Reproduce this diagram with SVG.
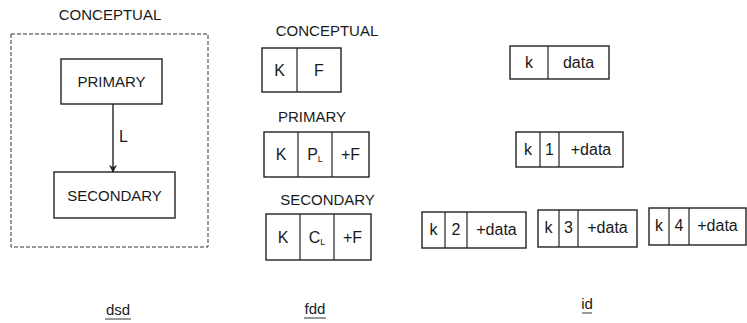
<svg xmlns="http://www.w3.org/2000/svg" width="747" height="323" viewBox="0 0 747 323">
  <style>
    .t { font-family: "Liberation Sans", Arial, sans-serif; fill: #1a1a1a; }
    .h { font-size: 15px; text-anchor: middle; }
    .c { font-size: 16px; text-anchor: middle; }
    .n { font-size: 15px; text-anchor: middle; }
    .cap { font-size: 16px; }
    .box { fill: none; stroke: #222; stroke-width: 1.4; }
    .div { stroke: #222; stroke-width: 1.2; }
    .frame { fill: none; stroke: #333; stroke-width: 1; stroke-dasharray: 4 2; }
    .ul { stroke: #333; stroke-width: 1; }
    .sub { font-size: 9px; }
  </style>
  <defs>
    <marker id="arrow" viewBox="0 0 10 10" refX="9" refY="5" markerWidth="8" markerHeight="11" orient="auto" markerUnits="userSpaceOnUse">
      <path d="M0,0 L10,5 L0,10 L3,5 Z" fill="#222"/>
    </marker>
  </defs>

  <!-- Data structure diagram (dsd) -->
  <g id="dsd">
    <text class="t h" x="110" y="20">CONCEPTUAL</text>
    <rect class="frame" x="11" y="34" width="197" height="213"/>
    <g id="dsd-primary">
      <rect class="box" x="61" y="59" width="101" height="45"/>
      <text class="t n" x="111.5" y="87">PRIMARY</text>
    </g>
    <g id="dsd-secondary">
      <rect class="box" x="54" y="172" width="121" height="46"/>
      <text class="t n" x="114.5" y="201">SECONDARY</text>
    </g>
    <text class="t h" x="118" y="315">dsd</text>
    <line class="ul" x1="105" y1="319" x2="131" y2="319"/>
  </g>

  <g id="connectors">
    <line x1="113" y1="104" x2="113" y2="172" stroke="#222" stroke-width="1.4" marker-end="url(#arrow)"/>
    <text class="t cap" x="119" y="142">L</text>
  </g>

  <!-- File definition diagram (fdd) -->
  <g id="fdd-conceptual">
    <text class="t h" x="327" y="36">CONCEPTUAL</text>
    <rect class="box" x="262" y="48" width="79" height="44"/>
    <line class="div" x1="297" y1="48" x2="297" y2="92"/>
    <text class="t c" x="279.5" y="76">K</text>
    <text class="t c" x="319" y="76">F</text>
  </g>
  <g id="fdd-primary">
    <text class="t h" x="312" y="122">PRIMARY</text>
    <rect class="box" x="264" y="132" width="105" height="45"/>
    <line class="div" x1="298" y1="132" x2="298" y2="177"/>
    <line class="div" x1="332" y1="132" x2="332" y2="177"/>
    <text class="t c" x="281" y="160">K</text>
    <text class="t c" x="315" y="160">P<tspan class="sub" dy="2">L</tspan></text>
    <text class="t c" x="350.5" y="160">+F</text>
  </g>
  <g id="fdd-secondary">
    <text class="t h" x="327.5" y="205">SECONDARY</text>
    <rect class="box" x="266" y="214" width="105" height="46"/>
    <line class="div" x1="300" y1="214" x2="300" y2="260"/>
    <line class="div" x1="334" y1="214" x2="334" y2="260"/>
    <text class="t c" x="283" y="243">K</text>
    <text class="t c" x="317" y="243">C<tspan class="sub" dy="2">L</tspan></text>
    <text class="t c" x="352.5" y="243">+F</text>
  </g>
  <g id="fdd-label">
    <text class="t h" x="315" y="314">fdd</text>
    <line class="ul" x1="304" y1="318" x2="326" y2="318"/>
  </g>

  <!-- Instance diagram (id) -->
  <g id="id-conceptual">
    <rect class="box" x="510" y="46" width="99" height="33"/>
    <line class="div" x1="548" y1="46" x2="548" y2="79"/>
    <text class="t c" x="529" y="68">k</text>
    <text class="t c" x="578.5" y="68">data</text>
  </g>
  <g id="id-primary">
    <rect class="box" x="516" y="132" width="107" height="35"/>
    <line class="div" x1="540" y1="132" x2="540" y2="167"/>
    <line class="div" x1="559" y1="132" x2="559" y2="167"/>
    <text class="t c" x="528" y="155">k</text>
    <text class="t c" x="549.5" y="155">1</text>
    <text class="t c" x="591" y="155">+data</text>
  </g>
  <g id="id-secondary-2">
    <rect class="box" x="422" y="212" width="104" height="36"/>
    <line class="div" x1="445" y1="212" x2="445" y2="248"/>
    <line class="div" x1="467" y1="212" x2="467" y2="248"/>
    <text class="t c" x="433.5" y="235">k</text>
    <text class="t c" x="456" y="235">2</text>
    <text class="t c" x="496.5" y="235">+data</text>
  </g>
  <g id="id-secondary-3">
    <rect class="box" x="538" y="210" width="99" height="37"/>
    <line class="div" x1="559" y1="210" x2="559" y2="247"/>
    <line class="div" x1="578" y1="210" x2="578" y2="247"/>
    <text class="t c" x="548.5" y="233">k</text>
    <text class="t c" x="568.5" y="233">3</text>
    <text class="t c" x="607.5" y="233">+data</text>
  </g>
  <g id="id-secondary-4">
    <rect class="box" x="649" y="208" width="97" height="37"/>
    <line class="div" x1="669" y1="208" x2="669" y2="245"/>
    <line class="div" x1="689" y1="208" x2="689" y2="245"/>
    <text class="t c" x="659" y="231">k</text>
    <text class="t c" x="679" y="231">4</text>
    <text class="t c" x="717.5" y="231">+data</text>
  </g>
  <g id="id-label">
    <text class="t h" x="587" y="309">id</text>
    <line class="ul" x1="582" y1="313" x2="592" y2="313"/>
  </g>
</svg>
